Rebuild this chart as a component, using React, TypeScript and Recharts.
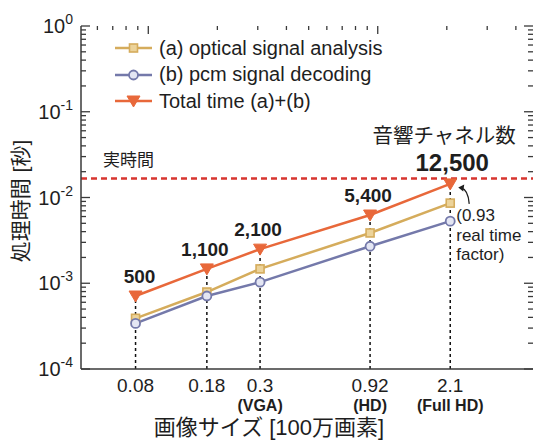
import {
  LineChart,
  Line,
  XAxis,
  YAxis,
  ReferenceLine,
  ReferenceDot,
  LabelList,
  Legend,
} from 'recharts';

// image size in megapixels (plotted position) and the labels printed under it
const imageSizes = [0.088, 0.18, 0.307, 0.926, 2.07];
const sizeLabels = ['0.08', '0.18', '0.3', '0.92', '2.1'];
const formatLabels = ['', '', '(VGA)', '(HD)', '(Full HD)'];

// processing time in seconds
const opticalAnalysis = [0.00039, 0.00079, 0.00147, 0.00386, 0.0086];
const pcmDecoding = [0.00034, 0.00071, 0.00103, 0.0027, 0.0053];
const totalTime = [0.00071, 0.00147, 0.0025, 0.00625, 0.0144];

// number of audio channels above each total point
const channelCounts = ['500', '1,100', '2,100', '5,400', '12,500'];

const realTimeLimit = 1 / 60;

const yMajorTicks = [1e-4, 1e-3, 1e-2, 1e-1, 1];
const yExponents = ['-4', '-3', '-2', '-1', '0'];
const minorSteps = [2, 3, 4, 5, 6, 7, 8, 9];
const xTopMajor = [0.1, 1];
const xTopTicks = [0.06, 0.07, 0.08, 0.09, 0.1, 0.2, 0.3, 0.4, 0.5, 0.6, 0.7, 0.8, 0.9, 1, 2, 3, 4];

const yTicks = [
  ...yMajorTicks.slice(0, -1).flatMap((t) => [t, ...minorSteps.map((m) => m * t)]),
  1,
];

const rows = imageSizes.map((size, i) => ({
  size,
  a: opticalAnalysis[i],
  b: pcmDecoding[i],
  total: totalTime[i],
  channels: channelCounts[i],
}));

const FONT = "'Liberation Sans', Arial, 'Noto Sans CJK JP', sans-serif";
const JP = "'Liberation Sans', 'Noto Sans CJK JP', sans-serif";
const CJK = "'Noto Sans CJK JP', sans-serif";
const TEXT = '#1e1e1e';
const AXIS = '#3a3a3a';
const GOLD = '#d5ac5c';
const SLATE = '#7479aa';
const ORANGE = '#e8683a';
const RED = '#d8352f';
const X_DOMAIN = [0.0509, 4.75];
const Y_DOMAIN = [1e-4, 1];

const isMajor = (v: number, list: number[]) =>
  list.findIndex((t) => Math.abs(Math.log10(t) - Math.log10(v)) < 1e-6);

function marker(kind: string, cx: number, cy: number, key?: string) {
  if (kind === 'a') {
    return (
      <rect key={key} x={cx - 4} y={cy - 4} width={8} height={8} fill="#ecd39a" stroke={GOLD} strokeWidth={1.6} />
    );
  }
  if (kind === 'b') {
    return <circle key={key} cx={cx} cy={cy} r={4.5} fill="#e4e6f3" stroke={SLATE} strokeWidth={1.8} />;
  }
  return (
    <path key={key} d={`M${cx - 6.5},${cy - 5} L${cx + 6.5},${cy - 5} L${cx},${cy + 6} Z`} fill={ORANGE} stroke={ORANGE} strokeWidth={1} />
  );
}

// inward tick mark drawn at a point on the frame
const tickMark = (dx: number, dy: number) => ({ cx, cy }: any) => (
  <path d={`M${cx},${cy}l${dx},${dy}`} stroke={AXIS} strokeWidth={1.3} fill="none" />
);

const LeftLabel = (props: any) => {
  const x = Number(props.x);
  const y = Number(props.y);
  const idx = isMajor(props.payload.value, yMajorTicks);
  if (idx < 0) return <g />;
  return (
    <text x={x - 8} y={y + 7} textAnchor="end" fontSize={20} fill={TEXT} fontFamily={FONT}>
      10
      <tspan dy={-9} fontSize={14}>
        {yExponents[idx]}
      </tspan>
    </text>
  );
};

const BottomTick = ({ x, y, payload }: any) => {
  const i = imageSizes.findIndex((s) => Math.abs(s - payload.value) < 1e-9);
  if (i < 0) return <g />;
  return (
    <g fontFamily={FONT} fill={TEXT}>
      <text x={x} y={y + 23} textAnchor="middle" fontSize={19}>
        {sizeLabels[i]}
      </text>
      {formatLabels[i] && (
        <text x={x} y={y + 42} textAnchor="middle" fontSize={16} fontWeight="bold">
          {formatLabels[i]}
        </text>
      )}
    </g>
  );
};

const ChannelLabel = (props: any) => {
  const x = props.x ?? props.viewBox?.x;
  const y = props.y ?? props.viewBox?.y;
  const last = props.index === channelCounts.length - 1;
  return (
    <g fontFamily={FONT} fill={TEXT}>
      {last && (
        <text x={x - 6} y={y - 41} textAnchor="middle" fontSize={20.5} fontFamily={CJK}>
          音響チャネル数
        </text>
      )}
      <text
        x={x + (last ? 2 : props.index === 0 ? 4 : -2)}
        y={y - 13}
        textAnchor="middle"
        fontSize={last ? 24 : 19}
        fontWeight="bold"
      >
        {props.value}
      </text>
    </g>
  );
};

const FactorNote = ({ cx, cy }: any) => (
  <g fontFamily={FONT} fill={TEXT} fontSize={17}>
    <path d={`M${cx + 19},${cy + 20} Q${cx + 18},${cy + 6} ${cx + 11},${cy + 4}`} fill="none" stroke={TEXT} strokeWidth={1.3} />
    <path d={`M${cx + 8},${cy + 3.5} L${cx + 14},${cy + 0.5} L${cx + 13},${cy + 7.5} Z`} fill={TEXT} />
    <text x={cx + 6} y={cy + 37}>(0.93</text>
    <text x={cx + 6} y={cy + 57}>real time</text>
    <text x={cx + 6} y={cy + 76}>factor)</text>
  </g>
);

const renderLegend = ({ payload }: any) => (
  <div style={{ fontFamily: FONT, fontSize: 20, color: TEXT }}>
    {(payload || []).map((entry: any) => (
      <div key={entry.dataKey} style={{ display: 'flex', alignItems: 'center', height: 26.5 }}>
        <svg width={40} height={16} style={{ marginRight: 6 }}>
          <line x1={2} x2={39} y1={8} y2={8} stroke={entry.color} strokeWidth={2.5} />
          {marker(entry.dataKey, 20.5, 8)}
        </svg>
        <span>{entry.value}</span>
      </div>
    ))}
  </div>
);

export default function App() {
  return (
    <div style={{ position: 'fixed', left: 0, top: 0, background: '#fff' }}>
      <LineChart width={535} height={441} data={rows} margin={{ top: 26, right: 2, bottom: 0, left: 0 }}>
        <XAxis
          dataKey="size"
          type="number"
          scale="log"
          domain={X_DOMAIN}
          allowDataOverflow
          ticks={imageSizes}
          interval={0}
          height={72}
          tickSize={0}
          tickMargin={0}
          tickLine={false}
          tick={BottomTick}
          axisLine={{ stroke: AXIS, strokeWidth: 1.5 }}
          label={{
            content: ({ viewBox }: any) => (
              <text x={viewBox.x + 188} y={viewBox.y + 66} textAnchor="middle" fontSize={22} fill={TEXT} fontFamily={JP}>
                画像サイズ [100万画素]
              </text>
            ),
          }}
        />
        <XAxis
          xAxisId="top"
          orientation="top"
          dataKey="size"
          type="number"
          scale="log"
          domain={X_DOMAIN}
          allowDataOverflow
          height={0}
          tick={false}
          tickLine={false}
          axisLine={{ stroke: AXIS, strokeWidth: 1.5 }}
        />
        <YAxis
          type="number"
          scale="log"
          domain={Y_DOMAIN}
          allowDataOverflow
          ticks={yTicks}
          interval={0}
          width={81}
          tickSize={0}
          tickMargin={0}
          tickLine={false}
          tick={LeftLabel}
          axisLine={{ stroke: AXIS, strokeWidth: 1.5 }}
          label={{
            content: () => (
              <text
                x={20}
                y={201}
                transform="rotate(-90, 20, 201)"
                textAnchor="middle"
                dominantBaseline="central"
                fontSize={21}
                fill={TEXT}
                fontFamily={JP}
              >
                処理時間 [秒]
              </text>
            ),
          }}
        />
        <YAxis
          yAxisId="right"
          orientation="right"
          type="number"
          scale="log"
          domain={Y_DOMAIN}
          allowDataOverflow
          width={0}
          tick={false}
          tickLine={false}
          axisLine={{ stroke: AXIS, strokeWidth: 1.5 }}
        />

        {yTicks.map((t) => {
          const len = isMajor(t, yMajorTicks) >= 0 ? 9 : 5;
          return [
            <ReferenceDot key={`l-${t}`} x={X_DOMAIN[0]} y={t} r={0} shape={tickMark(len, 0)} />,
            <ReferenceDot key={`r-${t}`} x={X_DOMAIN[1]} y={t} r={0} shape={tickMark(-len, 0)} />,
          ];
        })}
        {xTopTicks.map((t) => (
          <ReferenceDot
            key={`t-${t}`}
            x={t}
            y={Y_DOMAIN[1]}
            r={0}
            shape={tickMark(0, isMajor(t, xTopMajor) >= 0 ? 8 : 4)}
          />
        ))}

        <ReferenceLine
          y={realTimeLimit}
          stroke={RED}
          strokeWidth={2.5}
          strokeDasharray="6 4"
          label={{
            content: ({ viewBox }: any) => (
              <text x={viewBox.x + 22} y={viewBox.y - 12} fontSize={17} fill={TEXT} fontFamily={CJK}>
                実時間
              </text>
            ),
          }}
        />
        {imageSizes.map((s, i) => (
          <ReferenceLine
            key={`drop-${i}`}
            segment={[
              { x: s, y: Y_DOMAIN[0] },
              { x: s, y: totalTime[i] },
            ]}
            stroke="#111"
            strokeWidth={1.5}
            strokeDasharray="3 3"
          />
        ))}

        <Legend
          layout="vertical"
          align="center"
          verticalAlign="middle"
          content={renderLegend}
          wrapperStyle={{ left: 113, top: 35, width: 'auto' }}
        />

        <Line
          dataKey="a"
          name="(a) optical signal analysis"
          stroke={GOLD}
          strokeWidth={2.5}
          isAnimationActive={false}
          dot={(p: any) => marker('a', p.cx, p.cy, `a-${p.index}`)}
          activeDot={false}
        />
        <Line
          dataKey="b"
          name="(b) pcm signal decoding"
          stroke={SLATE}
          strokeWidth={2.5}
          isAnimationActive={false}
          dot={(p: any) => marker('b', p.cx, p.cy, `b-${p.index}`)}
          activeDot={false}
        />
        <Line
          dataKey="total"
          name="Total time (a)+(b)"
          stroke={ORANGE}
          strokeWidth={2.5}
          isAnimationActive={false}
          dot={(p: any) => marker('total', p.cx, p.cy, `t-${p.index}`)}
          activeDot={false}
        >
          <LabelList dataKey="channels" content={ChannelLabel} />
        </Line>

        <ReferenceDot
          x={imageSizes[imageSizes.length - 1]}
          y={totalTime[totalTime.length - 1]}
          r={0}
          shape={FactorNote}
        />
      </LineChart>
    </div>
  );
}
